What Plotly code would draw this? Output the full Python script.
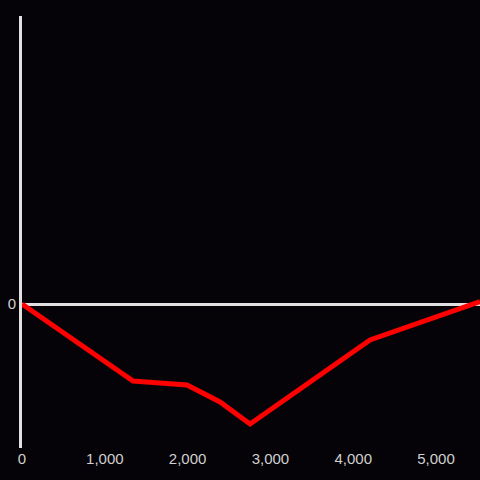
import plotly.graph_objects as go

distance = [0, 1341, 1993, 2391, 2754, 4203, 5531]
value = [0, -77, -81, -98, -120, -36, 2.5]
x_ticks = [0, 1000, 2000, 3000, 4000, 5000]

bg = '#050307'
axis_color = '#e0e0e0'

fig = go.Figure()
fig.add_trace(go.Scatter(
    x=distance,
    y=value,
    mode='lines',
    line=dict(color='#ff0000', width=5),
    hoverinfo='skip',
))

fig.update_layout(
    width=480,
    height=480,
    paper_bgcolor=bg,
    plot_bgcolor=bg,
    showlegend=False,
    margin=dict(l=22, r=0, t=16, b=32),
    font=dict(family='Arial, Liberation Sans, sans-serif', size=15, color='#d0d0d0'),
    xaxis=dict(
        range=[0, 5531],
        tickvals=x_ticks,
        tickformat=',',
        showgrid=False,
        zeroline=False,
        showline=False,
        ticks='',
    ),
    yaxis=dict(
        range=[-144, 288],
        tickvals=[0],
        showgrid=False,
        zeroline=True,
        zerolinecolor=axis_color,
        zerolinewidth=3,
        showline=True,
        linecolor=axis_color,
        linewidth=3,
        ticks='',
    ),
)

# the page has a default body margin; drop it so the chart fills the window
fig.write_html(
    "out.html",
    config=dict(displayModeBar=False),
    post_script="document.body.style.margin='0';document.body.style.background='%s';" % bg,
)
